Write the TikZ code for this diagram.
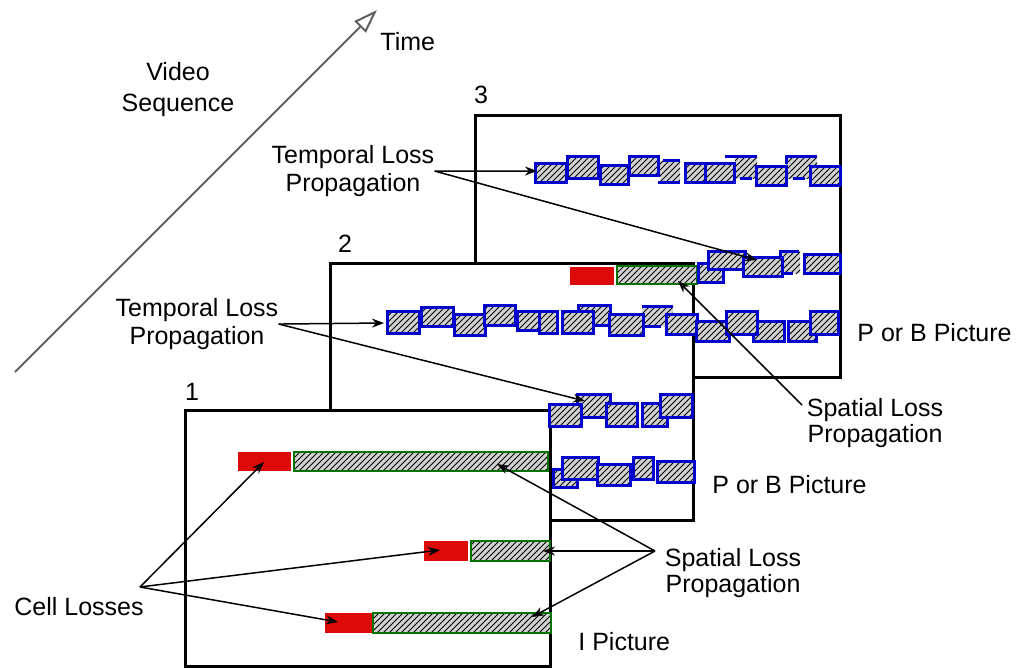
\documentclass[tikz,border=0pt]{standalone}
\usepackage{fontspec}
\setmainfont{Liberation Sans}
\usetikzlibrary{arrows.meta,patterns}
\definecolor{lossred}{RGB}{221,10,10}
\definecolor{blkblue}{RGB}{0,0,204}
\definecolor{spgreen}{RGB}{0,115,0}
\tikzset{
  frame/.style={draw=black, line width=1.5pt, fill=white},
  hatch/.style={preaction={fill=gray!35}, pattern=north east lines, pattern color=black},
  blk/.style={hatch, draw=blkblue, line width=1.5pt},
  blkline/.style={draw=blkblue, line width=1.5pt},
  grn/.style={hatch, draw=spgreen, line width=1.1pt},
  lost/.style={fill=lossred},
  conn/.style={-{Stealth[length=6pt,width=4.5pt]}, line width=0.75pt},
  lbl/.style={font=\fontsize{12.5}{14}\selectfont, inner sep=0pt, align=center},
}
\begin{document}
\begin{tikzpicture}[x=0.5pt,y=-0.5pt]
    \useasboundingbox (0,0) rectangle (1021,668);
    % time axis
    \coordinate (t0) at (15,372);
    \coordinate (t1) at (377,10);
    \draw[gray!75!black, line width=1pt, -{Triangle[open,length=12pt,width=8pt]}] (t0) -- (t1);
    % pictures 3, 2, 1 (back to front)
    \draw[frame] (475,116) rectangle (840,377);
    \draw[frame] (330,263) rectangle (693,520);
    \draw[frame] (185,410) rectangle (550,666);
    % cell losses and spatial spread in picture 1 and 2
    \fill[lost] (238,452) rectangle (291,471);
    \draw[grn] (294,452) rectangle (548,471);
    \fill[lost] (424,541) rectangle (468,561);
    \draw[grn] (471,541) rectangle (550,561);
    \fill[lost] (325,613) rectangle (373,633);
    \draw[grn] (373,613) rectangle (551,633);
    \fill[lost] (570,267) rectangle (614,285);
    \draw[grn] (617,266) rectangle (697,284);
    % temporal spread, picture 3
    \path[hatch] (660,161) rectangle (680,183);
    \draw[blkline] (663,161) -- (680,161) (658,183) -- (680,183);
    \path[hatch] (735,157) rectangle (757,179);
    \draw[blkline] (725,157) -- (757,157) (740,179) -- (752,179);
    \path[hatch] (786,157) rectangle (817,179);
    \draw[blkline] (786,164) -- (786,157) -- (817,157) (793,179) -- (805,179);
    \foreach \xa/\ya/\xb/\yb in {535/164/566/183, 567/157/598/179, 600/166/628/185,
        629/157/658/176, 685/164/707/183, 705/164/734/183, 756/167/786/186, 810/167/840/186}
        \draw[blk] (\xa,\ya) rectangle (\xb,\yb);
    \path[hatch] (780,251) rectangle (800,273);
    \draw[blkline] (799,251) -- (780,251) -- (780,273) -- (793,273);
    \foreach \xa/\ya/\xb/\yb in {698/263/723/282, 708/251/745/269, 743/257/782/276, 804/254/840/273}
        \draw[blk] (\xa,\ya) rectangle (\xb,\yb);
    % temporal spread, picture 2
    \path[hatch] (642,306) rectangle (673,326);
    \draw[blkline] (642,306) -- (673,306) (643,326) -- (661,326);
    \foreach \xa/\ya/\xb/\yb in {578/305/610/325, 387/311/419/333, 421/307/453/326, 454/314/485/335,
        484/305/515/325, 517/311/539/330, 539/311/557/333, 562/311/593/333, 609/314/643/335,
        666/314/697/334, 696/321/729/341, 753/321/784/341, 726/311/757/334, 788/321/816/341,
        810/311/838/334}
        \draw[blk] (\xa,\ya) rectangle (\xb,\yb);
    \foreach \xa/\ya/\xb/\yb in {577/394/610/417, 549/404/581/426, 606/403/637/426,
        642/403/667/426, 660/394/692/417}
        \draw[blk] (\xa,\ya) rectangle (\xb,\yb);
    \foreach \xa/\ya/\xb/\yb in {553/469/577/487, 562/457/598/479, 597/464/630/485,
        633/457/653/479, 657/461/694/482}
        \draw[blk] (\xa,\ya) rectangle (\xb,\yb);
    % labels
    \node[lbl, anchor=north west] (time) at (380,32) {Time};
    \node[lbl, anchor=north] (video) at (178,62) {Video\\[1.5pt]Sequence};
    \node[lbl, anchor=north] (num3) at (481,86) {3};
    \node[lbl, anchor=north] (num2) at (345,235) {2};
    \node[lbl, anchor=north] (num1) at (192,383) {1};
    \node[lbl, anchor=north] (tlt) at (353,145) {Temporal Loss\\Propagation};
    \node[lbl, anchor=north] (tlb) at (197,298) {Temporal Loss\\Propagation};
    \node[lbl, anchor=north] (slr) at (875,398) {Spatial Loss\\[-1pt]Propagation};
    \node[lbl, anchor=north] (slb) at (733,548) {Spatial Loss\\[-1pt]Propagation};
    \node[lbl, anchor=north] (cell) at (79,597) {Cell Losses};
    \node[lbl, anchor=north west] (pbu) at (857,323) {P or B Picture};
    \node[lbl, anchor=north west] (pbl) at (712,475) {P or B Picture};
    \node[lbl, anchor=north west] (ipic) at (578,632) {I Picture};
    % arrow ends
    \coordinate (cellhub) at (140,587);
    \coordinate (slbhub) at (655,551);
    \coordinate (slrhub) at (802,405);
    \coordinate (tA) at (537,171);
    \coordinate (tB) at (757,260);
    \coordinate (tC) at (384,323);
    \coordinate (tD) at (585,401);
    \coordinate (cA) at (264,462);
    \coordinate (cB) at (440,550);
    \coordinate (cC) at (338,622);
    \coordinate (sA) at (497,464);
    \coordinate (sB) at (543,551);
    \coordinate (sC) at (532,617);
    \coordinate (sD) at (678,281);
    % connectors
    \draw[conn] (tlt.east) -- (tA);
    \draw[conn] (tlt.east) -- (tB);
    \draw[conn] (tlb.east) -- (tC);
    \draw[conn] (tlb.east) -- (tD);
    \draw[conn] (cellhub) -- (cA);
    \draw[conn] (cellhub) -- (cB);
    \draw[conn] (cellhub) -- (cC);
    \draw[conn] (slbhub) -- (sA);
    \draw[conn] (slbhub) -- (sB);
    \draw[conn] (slbhub) -- (sC);
    \draw[conn] (slrhub) -- (sD);
\end{tikzpicture}
\end{document}
